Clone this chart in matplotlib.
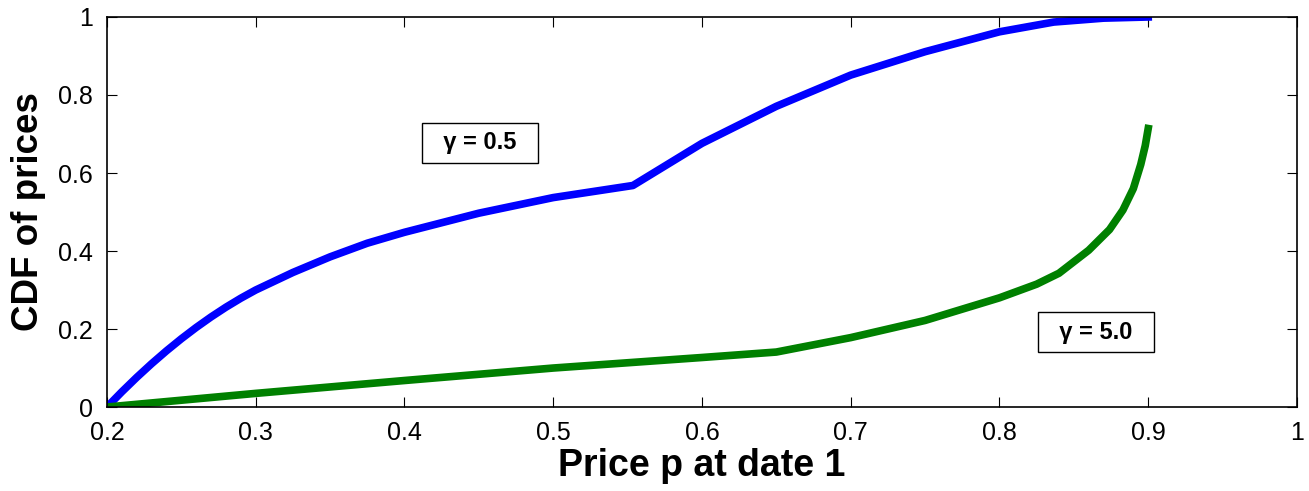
import numpy as np
import matplotlib; matplotlib.use('Agg'); import matplotlib.pyplot as plt

plt.rcParams['font.family'] = ['Liberation Sans', 'DejaVu Sans']

# gamma = 0.5 (blue)
p_lo = [0.2, 0.21, 0.22, 0.23, 0.24, 0.25, 0.26, 0.27, 0.28, 0.29, 0.3, 0.325, 0.35, 0.375,
        0.4, 0.45, 0.5, 0.5536,
        0.6, 0.65, 0.7, 0.75, 0.8, 0.8365, 0.87, 0.9]
cdf_lo = [0.0, 0.039, 0.076, 0.111, 0.144, 0.175, 0.204, 0.231, 0.256, 0.279, 0.30, 0.345, 0.385, 0.42,
          0.448, 0.497, 0.537, 0.568,
          0.676, 0.771, 0.851, 0.911, 0.962, 0.987, 0.997, 1.0]
# gamma = 5.0 (green)
p_hi = [0.2, 0.3, 0.4, 0.5, 0.6, 0.65, 0.7, 0.75, 0.8, 0.825, 0.84, 0.86,
        0.874, 0.883, 0.89, 0.895, 0.898, 0.9]
cdf_hi = [0.0, 0.035, 0.068, 0.1, 0.127, 0.141, 0.178, 0.222, 0.28, 0.315, 0.343, 0.402,
          0.455, 0.505, 0.56, 0.622, 0.67, 0.714]

fig = plt.figure(figsize=(13.09, 4.91), dpi=100)
ax = fig.add_axes([0.0817, 0.171, 0.9091, 0.7944])
ax.plot(p_lo, cdf_lo, color=(0, 0, 1), lw=5.5, solid_joinstyle='round')
ax.plot(p_hi, cdf_hi, color=(0, 0.5, 0), lw=5.5, solid_joinstyle='round')
ax.set_xlim(0.2, 1)
ax.set_ylim(0, 1)
ax.set_xticks(np.arange(0.2, 1.01, 0.1))
ax.set_xticklabels(['0.2', '0.3', '0.4', '0.5', '0.6', '0.7', '0.8', '0.9', '1'])
ax.set_yticks([0, 0.2, 0.4, 0.6, 0.8, 1])
ax.set_yticklabels(['0', '0.2', '0.4', '0.6', '0.8', '1'])
ax.tick_params(direction='in', top=True, right=True, labelsize=18, length=7, width=0.8)
ax.tick_params(axis='x', pad=10)
ax.tick_params(axis='y', pad=10)
for s in ax.spines.values(): s.set_linewidth(1.2)
ax.set_xlabel('Price p at date 1', fontsize=27, fontweight='bold', labelpad=2)
ax.set_ylabel('CDF of prices', fontsize=26.5, fontweight='bold', labelpad=9)
box = dict(boxstyle='square,pad=0.35', fc='white', ec='black', lw=1)
ax.text(0.451, 0.677, '  γ = 0.5  ', fontsize=17, fontweight='bold', ha='center', va='center', bbox=box)
ax.text(0.865, 0.192, '  γ = 5.0  ', fontsize=17, fontweight='bold', ha='center', va='center', bbox=box)
fig.savefig('out.png', dpi=100)
